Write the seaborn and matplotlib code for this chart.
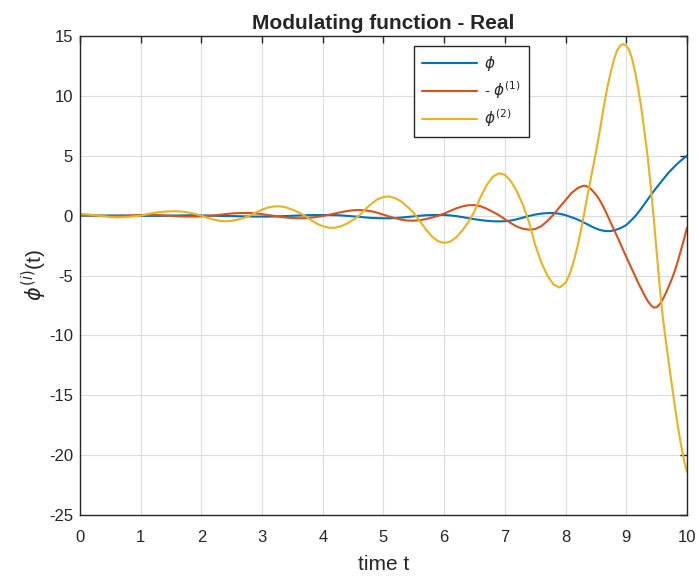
import numpy as np
import pandas as pd
import matplotlib
matplotlib.use("Agg")
import matplotlib.pyplot as plt
import seaborn as sns

# time axis: step 0.1 up to 8, then step 0.05 up to 10
t = np.concatenate([np.round(np.arange(0, 81) * 0.1, 2),
                    np.round(8.0 + np.arange(1, 41) * 0.05, 2)])

phi = [0.0, 0.0, 0.0, 0.0, 0.0, 0.01, 0.01, 0.01, 0.0, 0.0,
       -0.01, -0.02, -0.02, -0.02, -0.01, 0.0, 0.01, 0.02, 0.03, 0.03,
       0.02, 0.01, -0.01, -0.02, -0.03, -0.04, -0.05, -0.06, -0.07, -0.08,
       -0.08, -0.08, -0.07, -0.05, -0.03, -0.01, 0.01, 0.03, 0.04, 0.05,
       0.05, 0.05, 0.04, 0.02, -0.02, -0.06, -0.1, -0.15, -0.19, -0.21,
       -0.22, -0.22, -0.2, -0.16, -0.11, -0.06, -0.01, 0.03, 0.05, 0.06,
       0.05, 0.02, -0.04, -0.12, -0.21, -0.3, -0.37, -0.43, -0.47, -0.48,
       -0.47, -0.41, -0.3, -0.16, -0.02, 0.09, 0.17, 0.21, 0.22, 0.16,
       0.04,
       -0.05, -0.14, -0.23, -0.33, -0.45, -0.57, -0.7, -0.83, -0.96, -1.07,
       -1.17, -1.24, -1.28, -1.3, -1.28, -1.23, -1.15, -1.05, -0.93, -0.78,
       -0.55, -0.3, -0.03, 0.28, 0.62, 0.97, 1.33, 1.68, 2.02, 2.35,
       2.67, 2.98, 3.3, 3.6, 3.87, 4.13, 4.37, 4.6, 4.8, 5.0]

neg_phi1 = [0.03, 0.03, 0.02, 0.0, -0.01, -0.02, -0.02, -0.01, 0.01, 0.03,
            0.05, 0.06, 0.06, 0.04, 0.01, -0.02, -0.05, -0.07, -0.08, -0.08,
            -0.06, -0.03, 0.02, 0.07, 0.13, 0.18, 0.21, 0.22, 0.22, 0.18,
            0.12, 0.05, -0.02, -0.1, -0.16, -0.2, -0.22, -0.21, -0.17, -0.11,
            -0.03, 0.07, 0.18, 0.29, 0.38, 0.45, 0.47, 0.44, 0.36, 0.24,
            0.08, -0.08, -0.22, -0.34, -0.41, -0.42, -0.38, -0.29, -0.16, -0.01,
            0.17, 0.4, 0.61, 0.77, 0.87, 0.88, 0.78, 0.58, 0.32, 0.04,
            -0.3, -0.63, -0.92, -1.1, -1.17, -1.12, -0.88, -0.45, 0.08, 0.7,
            1.3,
            1.6, 1.9, 2.1, 2.3, 2.42, 2.5, 2.45, 2.3, 2.05, 1.75,
            1.4, 0.95, 0.45, -0.1, -0.65, -1.2, -1.75, -2.3, -2.88, -3.45,
            -4.0, -4.55, -5.1, -5.65, -6.15, -6.65, -7.1, -7.45, -7.68, -7.65,
            -7.4, -7.0, -6.5, -5.9, -5.3, -4.6, -3.8, -2.9, -2.0, -1.0]

phi2 = [0.15, 0.11, 0.06, 0.0, -0.06, -0.12, -0.14, -0.13, -0.1, -0.05,
        0.0, 0.11, 0.21, 0.29, 0.34, 0.36, 0.36, 0.33, 0.25, 0.13,
        0.0, -0.18, -0.33, -0.43, -0.47, -0.43, -0.33, -0.18, 0.0, 0.27,
        0.5, 0.68, 0.77, 0.78, 0.68, 0.5, 0.27, 0.0, -0.35, -0.66,
        -0.89, -1.01, -1.02, -0.89, -0.66, -0.35, 0.0, 0.53, 0.99, 1.36,
        1.56, 1.6, 1.44, 1.16, 0.72, 0.22, -0.46, -1.16, -1.75, -2.14,
        -2.28, -2.17, -1.8, -1.23, -0.53, 0.37, 1.56, 2.55, 3.24, 3.54,
        3.41, 2.87, 2.0, 0.86, -0.58, -2.46, -3.9, -5.0, -5.75, -6.0,
        -5.6,
        -5.1, -4.4, -3.5, -2.5, -1.3, 0.0, 1.4, 2.7, 4.0, 5.3,
        6.7, 8.2, 9.7, 11.0, 12.1, 13.1, 13.8, 14.2, 14.33, 14.2,
        13.8, 13.0, 11.9, 10.5, 8.9, 7.0, 5.0, 2.6, -0.1, -3.0,
        -5.9, -8.4, -10.4, -12.3, -14.1, -15.9, -17.6, -19.1, -20.4, -21.4]

labels = [r"$\phi$", r"- $\phi^{(1)}$", r"$\phi^{(2)}$"]
colors = ["#0072BD", "#D95319", "#EDB120"]
xticks = list(range(0, 11))
yticks = list(range(-25, 16, 5))

sns.set_theme(style="white")
plt.rcParams["font.family"] = ["Liberation Sans", "DejaVu Sans"]
plt.rcParams["mathtext.fontset"] = "dejavusans"
plt.rcParams["axes.unicode_minus"] = False

fig = plt.figure(figsize=(6.99, 5.78), dpi=100)
ax = fig.add_axes([0.1144, 0.109, 0.8684, 0.8287])

for vals, lab, col in zip([phi, neg_phi1, phi2], labels, colors):
    df = pd.DataFrame({"t": t, "v": vals})
    sns.lineplot(data=df, x="t", y="v", ax=ax, color=col, lw=1.5, label=lab)

ax.set_xlim(0, 10)
ax.set_ylim(-25, 15)
ax.set_xticks(xticks)
ax.set_yticks(yticks)
ax.grid(True, color="#dcdcdc", lw=0.8)
ax.set_axisbelow(True)
for s in ax.spines.values():
    s.set_color("#262626")
    s.set_linewidth(1.0)
ax.tick_params(direction="in", length=5, width=1.0, colors="#262626",
               labelsize=12, top=True, right=True, labelcolor="#262626")
ax.tick_params(axis="x", pad=11)
ax.tick_params(axis="y", pad=5)
ax.set_title("Modulating function - Real", fontsize=15, fontweight="bold", pad=5)
ax.set_xlabel("time t", fontsize=15, color="#262626", labelpad=7)
ax.set_ylabel(r"$\phi^{(i)}$(t)", fontsize=15, color="#262626", labelpad=0)

leg = ax.legend(loc="upper left", bbox_to_anchor=(0.5503, 0.979), borderaxespad=0,
                frameon=True, fancybox=False, edgecolor="#262626", framealpha=1,
                fontsize=11, handlelength=3.6, handletextpad=0.45,
                borderpad=0.55, labelspacing=0.4)
leg.get_frame().set_linewidth(1.0)

fig.savefig("out.png", dpi=100)
